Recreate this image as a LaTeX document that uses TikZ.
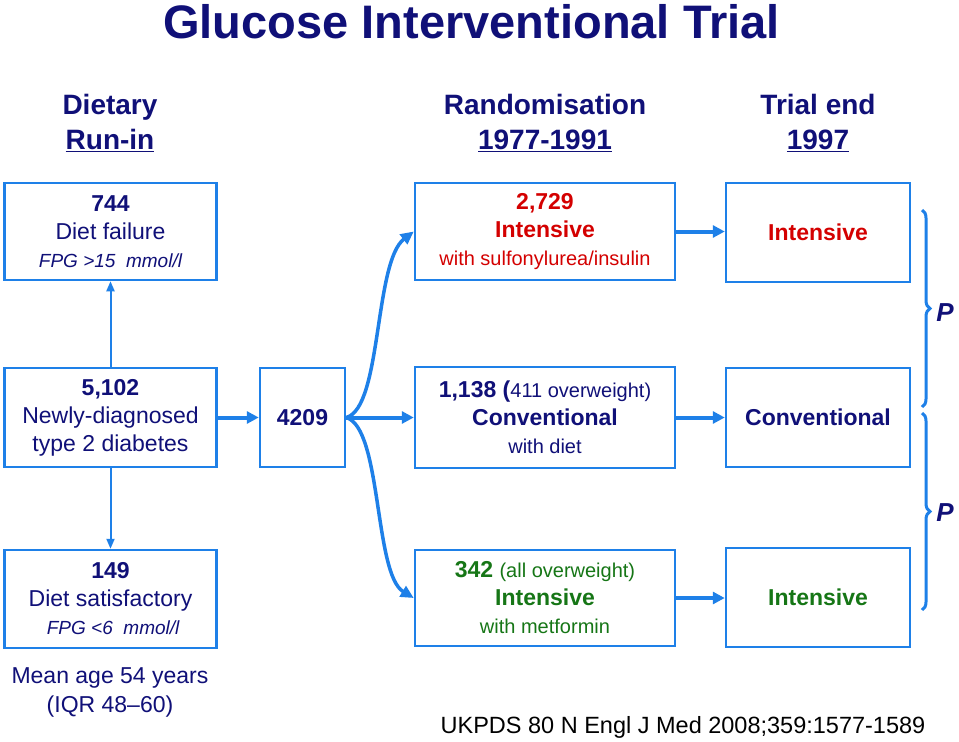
\documentclass[tikz,border=0pt]{standalone}
\usepackage{fontspec}
\setmainfont{Liberation Sans}
\usetikzlibrary{arrows.meta,decorations.pathreplacing}
\definecolor{navy}{RGB}{16,16,120}
\definecolor{redt}{RGB}{212,0,0}
\definecolor{greent}{RGB}{22,118,22}
\definecolor{boxblue}{RGB}{30,128,232}
\begin{document}
\begin{tikzpicture}[x=1pt,y=-1pt,
  box/.style={draw=boxblue,line width=2.5pt,inner sep=0pt,align=center,
    font=\fontsize{23}{28}\selectfont},
  lbox/.style={box,minimum width=212pt,text=navy},
  mbox/.style={box,minimum width=260pt},
  rbox/.style={box,minimum width=184pt},
  thinarrow/.style={draw=boxblue,line width=2pt,-{Triangle[length=10pt,width=8pt]}},
  thickarrow/.style={draw=boxblue,line width=4pt,-{Triangle[length=12pt,width=12pt]}},
  curvearrow/.style={draw=boxblue,line width=3.5pt,-{Triangle[length=13pt,width=12pt]}},
  bracestyle/.style={draw=boxblue,line width=3pt,decorate,decoration={brace,amplitude=8pt}},
  hdr/.style={align=center,text=navy,font=\fontsize{28}{35}\selectfont\bfseries},
  plabel/.style={text=navy,font=\fontsize{26}{30}\selectfont\bfseries\itshape}
]
\useasboundingbox (0,0) rectangle (959,742);
\fill[white] (0,0) rectangle (959,742);

% title and headers
\node[text=navy,font=\fontsize{47}{50}\selectfont\bfseries] (title) at (471.5,22) {Glucose Interventional Trial};
\node[hdr] (h1) at (110,123) {Dietary\\\underline{Run-in}};
\node[hdr] (h2) at (545,123) {Randomisation\\\underline{1977-1991}};
\node[hdr] (h3) at (818,123) {Trial end\\\underline{1997}};

% left column
\node[lbox,minimum height=97pt] (fail) at (110.5,231.5)
  {{\bfseries 744}\\Diet failure\\{\fontsize{19}{28}\selectfont\itshape FPG >15~~mmol/l}};
\node[lbox,minimum height=99pt] (newly) at (110.5,417.5)
  {{\bfseries 5,102}\\Newly-diagnosed\\type 2 diabetes};
\node[lbox,minimum height=98pt] (sat) at (110.5,599)
  {{\bfseries 149}\\Diet satisfactory\\{\fontsize{19}{28}\selectfont\itshape ~FPG <6~~mmol/l}};
\node[box,minimum width=85pt,minimum height=99pt,text=navy] (n4209) at (302.5,417.5) {\bfseries 4209};

% middle column
\node[mbox,minimum height=97pt,text=redt] (m1) at (545,231.5)
  {{\bfseries 2,729}\\{\bfseries Intensive}\\{\fontsize{20}{28}\selectfont with sulfonylurea/insulin}};
\node[mbox,minimum height=101pt,text=navy] (m2) at (545,417.5)
  {{\bfseries 1,138 (}{\fontsize{20}{28}\selectfont 411 overweight)}\\{\bfseries Conventional}\\{\fontsize{20}{28}\selectfont with diet}};
\node[mbox,minimum height=96pt,text=greent] (m3) at (545,598)
  {{\bfseries 342} {\fontsize{20}{28}\selectfont (all overweight)}\\{\bfseries Intensive}\\{\fontsize{20}{28}\selectfont with metformin}};

% right column
\node[rbox,minimum height=99pt,text=redt] (r1) at (818,232.5) {\bfseries Intensive};
\node[rbox,minimum height=99pt,text=navy] (r2) at (818,417.5) {\bfseries Conventional};
\node[rbox,minimum height=99pt,text=greent] (r3) at (818,597.5) {\bfseries Intensive};

% connectors
\draw[thinarrow] (newly.north) -- (fail.south);
\draw[thinarrow] (newly.south) -- (sat.north);
\draw[thickarrow] (newly.east) -- (n4209.west);
\draw[thickarrow] (n4209.east) -- (m2.west);
\draw[curvearrow] (n4209.east) .. controls (382,408) and (374,262) .. (m1.west);
\draw[curvearrow] (n4209.east) .. controls (382,428) and (374,574) .. (m3.west);
\draw[thickarrow] (m1.east) -- (m1.east -| r1.west);
\draw[thickarrow] (m2.east) -- (r2.west);
\draw[thickarrow] (m3.east) -- (m3.east -| r3.west);

% braces
\coordinate (b1a) at (922,210);
\coordinate (b1b) at (922,407);
\coordinate (b2a) at (922,413);
\coordinate (b2b) at (922,610);
\draw[bracestyle] (b1a) -- (b1b);
\draw[bracestyle] (b2a) -- (b2b);
\node[plabel] (p1) at (945,313) {P};
\node[plabel] (p2) at (945,513) {P};

% notes
\node[align=center,text=navy,font=\fontsize{23}{29}\selectfont] (age) at (110,692) {Mean age 54 years\\(IQR 48--60)};
\node[text=black,font=\fontsize{23.5}{28}\selectfont] (ref) at (683,727) {UKPDS 80 N Engl J Med 2008;359:1577-1589};
\end{tikzpicture}
\end{document}
